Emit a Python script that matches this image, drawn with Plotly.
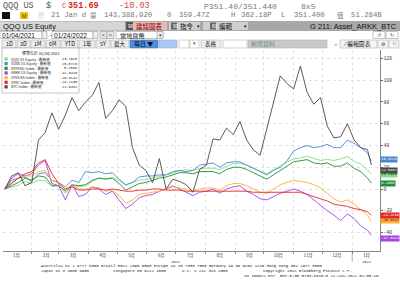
import pandas as pd
import plotly.graph_objects as go

# ---------------- data (normalised % change since 01/04/2021) ----------------
dates = list(pd.date_range("2021-01-04", "2022-01-17", freq="7D").strftime("%Y-%m-%d")) + ["2022-01-21"]

qqq = [0, 1.6, 3.5, 6.8, 5.2, 8.1, 7.4, 2.6, 3.5, -3.9, 3.5, 2.2, 2.9, 7.1, 10.3, 9.4, 10.7,
       7.7, 3.2, 6.1, 8.1, 8.7, 10.0, 11.6, 13.2, 14.5, 16.8, 17.8, 17.1, 18.7, 19.1, 19.1, 17.8,
       21.0, 23.3, 23.6, 22.0, 19.1, 16.5, 14.2, 17.8, 21.3, 24.6, 27.8, 28.5, 30.1, 27.8, 26.2,
       27.2, 26.2, 27.8, 29.7, 25.5, 23.0, 17.4, 13.7915]
soxx = [0, 8, 10, 11, 7, 14, 15, 8, 6, 2, 8, 6, 16, 15, 16, 14, 15, 9, 4, 6, 11, 12, 12, 13, 13,
        16, 17, 16, 17, 22, 23, 24, 20, 24, 25, 25, 22, 19, 16, 13, 17, 20, 26, 35, 38, 40, 38,
        39, 41, 38, 38, 45, 42, 38, 33, 25.5726]
nyfang = [0, 3, 6, 10, 8, 12, 11, 3, 3, -2, 4, 3, 4, 8, 10, 9, 10, 5, -1, 2, 5, 6, 8, 10, 11, 13,
          15, 15, 14, 16, 16, 16, 14, 18, 20, 20, 18, 15, 12, 9, 13, 17, 21, 25, 26, 27, 24, 23,
          24, 21, 21, 24, 19, 16, 10, 5.2568]
arkk = [0, 10, 14, 12, 14, 22, 26, 5, 3, -10, 4, -7, -5, 2, 0, -5, -2, -10, -18, -14, -8, -6, -5,
        -2, 0, 3, 0, -3, -6, -3, -2, 0, -4, 0, 2, 3, -2, -5, -9, -10, -7, -4, -2, 0, -2, -5, -10,
        -15, -20, -24, -29, -23, -27, -34, -38, -42.6418]
spdusa = [0, 6, 10, 12, 12, 16, 17, 8, 6, -1, 4, 0, 0, 2, 1, -2, -1, -6, -13, -10, -5, -4, -3, -2,
          0, 2, 1, 0, -2, 0, 1, 1, -1, 3, 5, 5, 3, 0, -3, -4, 0, 4, 6, 8, 7, 6, 4, 1, -4, -9, -12,
          -10, -14, -19, -24, -29.6142]
spac = [0, 5, 10, 14, 16, 24, 27, 14, 5, 0, 2, -1, -1, 0, 0, -1, 0, -1, -2, -2, -1, -1, 0, 0, -1,
        -1, -1, -2, -2, -2, -2, -2, -2, -2, -2, -2, -2, -3, -3, -3, -3, -3, -3, -3, -3, -5, -7, -9,
        -11, -14, -15, -16, -18, -19, -21, -24.2136]
btc = [0, 12, 15, 3, 6, 45, 52, 70, 55, 68, 84, 72, 80, 86, 98, 65, 72, 82, 76, 38, 22, 17, 6, 28,
       0, 9, 7, 4, -3, 18, 22, 46, 45, 56, 50, 62, 45, 36, 31, 55, 78, 104, 97, 92, 113, 89, 78,
       84, 58, 47, 48, 60, 45, 38, 36, 22.0432]

names = ["QQQ US Equity", "SOXX US Equity", "NYFANG Index", "ARKK US Equity",
         "SPDUSA Index", "SPAC Index", "BTC Index"]
series = [qqq, soxx, nyfang, arkk, spdusa, spac, btc]
colors = ["#86dd7e", "#4a88d4", "#1f8f3a", "#a244ec", "#ffab34", "#e4262a", "#484848"]
tag_text = ["#111", "#fff", "#fff", "#fff", "#111", "#fff", "#fff"]
tag_shift = [0, 1.5, 0, -3, 0.5, 0, -5]

month_labels = ["1月", "2月", "3月", "4月", "5月", "6月", "7月", "8月", "9月", "10月", "11月", "12月", "1月"]
month_starts = list(pd.date_range("2021-01-01", "2022-01-01", freq="MS"))
year_labels = ["2021", "2022"]

# ---------------- geometry helpers ----------------
W, H = 400, 288
L, R, T, B = 3, 20, 50, 37
PW, PH = W - L - R, H - T - B

SANS = "Liberation Sans, Noto Sans CJK TC, sans-serif"
MONO = "Liberation Mono, DejaVu Sans Mono, Noto Sans CJK TC, monospace"
CJK = "Noto Sans CJK TC, Liberation Sans, sans-serif"


def X(p):
    return (p - L) / PW


def Y(p):
    return 1 - (p - T) / PH


shapes, annots = [], []


def rect(x0, y0, x1, y1, fill, line=None, lw=0.6):
    shapes.append(dict(type="rect", xref="paper", yref="paper", x0=X(x0), x1=X(x1),
                       y0=Y(y1), y1=Y(y0), fillcolor=fill, layer="above",
                       line=dict(color=line if line else fill, width=lw if line else 0)))


def txt(x, y, s, size=6, color="#333", anchor="left", font=SANS):
    annots.append(dict(xref="paper", yref="paper", x=X(x), y=Y(y), text=s, showarrow=False,
                       xanchor=anchor, yanchor="middle", borderpad=0,
                       font=dict(size=size, color=color, family=font)))


# ---------------- figure ----------------
fig = go.Figure()
for n, s, c in zip(names, series, colors):
    fig.add_trace(go.Scatter(x=dates, y=s, mode="lines", name=n,
                             line=dict(color=c, width=0.9), hoverinfo="skip"))

# header row 1
txt(2, 6, "QQQ US", 8.5, "#555", font=MONO)
txt(45, 6, "$", 8.5, "#555", font=MONO)
txt(61, 6, "C", 6.5, "#c04040", font=MONO)
txt(67, 6, "<b>351.69</b>", 8.5, "#e02020", font=MONO)
txt(118, 6, "-10.03", 8.5, "#e04040", font=MONO)
txt(203, 6, "P351.40/351.440", 8.1, "#777", font=MONO)
txt(300, 6, "8x5", 8.1, "#777", font=MONO)
# header row 2
rect(2, 12, 10, 19, "#111")
rect(20, 12, 28, 19, "#f2c200")
txt(24, 15.5, "M", 5, "#333", "center")
txt(37, 15, "於", 6.5, "#ccc", font=CJK)
txt(50, 15, "21 Jan d", 7.3, "#777", font=MONO)
txt(89, 15, "量", 6.5, "#777", font=CJK)
for xx, s in [(103, "143,388,920"), (166, "0"), (178, "359.47Z"), (230, "H"), (240, "362.18P"),
              (280, "L"), (293, "351.400"), (350, "51.284B")]:
    txt(xx, 15, s, 7.3, "#777", font=MONO)
txt(336, 15, "值", 6.5, "#777", font=CJK)
# header row 3
rect(0, 21, 400, 31, "#a8a8a8")
rect(0, 21.5, 125, 30.5, "#d6d6d6")
txt(2, 26, "QQQ US Equity", 7.5, "#111")
rect(126, 22, 133, 30, "#555")
txt(126.5, 26, "98", 4.5, "#fff")
rect(133, 22, 167, 30, "#e7b9b9")
txt(135, 26, "建議圖表", 6.5, "#8b0000", font=CJK)
rect(169, 22, 200, 30, "#cfcfcf")
rect(171, 22.5, 177, 29.5, "#666")
txt(171.5, 26, "99", 4.5, "#fff")
txt(179, 26, "指令", 6.5, "#111", font=CJK)
txt(196, 26, "▾", 5, "#111")
rect(203, 22, 248, 30, "#cfcfcf")
rect(210, 22.5, 216, 29.5, "#666")
txt(210.5, 26, "80", 4.5, "#fff")
txt(218, 26, "編輯", 6.5, "#111", font=CJK)
txt(243, 26, "▾", 5, "#111")
txt(398, 26, "G 211: Asset_ARKK_BTC", 7.5, "#111", "right")
# header row 4
rect(0, 31.5, 42, 38.5, "#fff", "#999")
txt(1, 35, "01/04/2021", 6.6, "#111")
rect(42, 31.5, 47, 38.5, "#eee", "#999")
txt(48.5, 35, "-", 6, "#111")
rect(52, 31.5, 93, 38.5, "#fff", "#999")
txt(53, 35, "01/24/2022", 6.6, "#111")
rect(93, 31.5, 98, 38.5, "#eee", "#999")
rect(100, 31.5, 107, 38.5, "#e6e6e6", "#999")
txt(103.5, 35, "<", 5, "#333", "center")
rect(107, 31.5, 114, 38.5, "#e6e6e6", "#999")
txt(110.5, 35, ">", 5, "#333", "center")
rect(116, 31.5, 163, 38.5, "#fff", "#999")
txt(119, 35, "當地貨幣", 6.2, "#111", font=CJK)
rect(157, 31.5, 163, 38.5, "#eee", "#999")
txt(160, 35, "▾", 5, "#333", "center")
rect(373, 31.5, 385, 38.5, "#fff", "#999")
txt(379, 35, "↺", 5, "#555", "center")
rect(386, 31.5, 398, 38.5, "#fff", "#999")
txt(392, 35, "↻", 5, "#555", "center")
# header row 5
for x0, x1, lab in [(2, 16, "1D"), (17, 30, "3D"), (31, 45, "1M"), (46, 60, "6M"), (61, 78, "YTD"),
                    (79, 95, "1年"), (96, 110, "5Y"), (111, 129, "最大")]:
    rect(x0, 40, x1, 48, "#ececec", "#b4b4b4")
    txt((x0 + x1) / 2, 44, lab, 5.5, "#111", "center", font=CJK)
rect(130, 40, 158, 48, "#4f8fe0", "#3a6fb0")
txt(133, 44, "每日 ▼", 6, "#111", font=CJK)
rect(159, 40, 177, 48, "#a9c9f2", "#8fb0dc")
rect(179, 40, 189, 48, "#fff", "#b4b4b4")
rect(190, 40, 199, 48, "#fff", "#b4b4b4")
txt(194.5, 44, "▾", 4.5, "#555", "center")
rect(201, 40, 221, 48, "#ececec", "#b4b4b4")
txt(211, 44, "表格", 5.5, "#111", "center", font=CJK)
rect(223, 40, 247, 48, "#fff", "#b4b4b4")
rect(248, 40, 327, 48, "#c9c9c9", "#b4b4b4")
txt(250, 44, "新增資料", 6, "#6f8f6f", font=CJK)
txt(333, 44, "«", 6, "#999")
rect(340, 40, 377, 48, "#f4f4f4", "#b4b4b4")
txt(342, 44, "⁄ 編輯圖表", 5.8, "#111", font=CJK)
rect(378, 40, 388, 48, "#f4f4f4", "#b4b4b4")
txt(383, 44, "⚙", 5, "#333", "center")
rect(389, 40, 399, 48, "#f4f4f4", "#b4b4b4")
txt(394, 44, "□", 4.5, "#555", "center")

# legend box
rect(2, 48, 79, 93, "#ffffff", "#a0a0a0", 0.6)
txt(40.5, 53.5, "標準化於 01/04/2021", 4, "#222", "center", font=CJK)
for i, (n, s, c) in enumerate(zip(names, series, colors)):
    yy = 59 + i * 4.65
    rect(4.5, yy - 1.6, 7.7, yy + 1.6, c)
    txt(9.5, yy, f"{n} - 最新價", 3.6, "#222", font=CJK)
    txt(77.5, yy, f"{s[-1]:.4f}", 3.6, "#222", "right", font=MONO)

# last-value tags on the right axis
for n, s, c, tc, sh in zip(names, series, colors, tag_text, tag_shift):
    annots.append(dict(xref="paper", yref="y", x=1.0, y=s[-1], text=f"{s[-1]:.4f}",
                       showarrow=False, xanchor="left", yanchor="middle", yshift=sh, xshift=0,
                       bgcolor=c, borderpad=0.3,
                       font=dict(size=3.7, color=tc, family=MONO)))

# year labels and separator
annots.append(dict(xref="x", yref="paper", x="2021-07-01", y=Y(261.5), text=year_labels[0],
                   showarrow=False, xanchor="center", yanchor="middle",
                   font=dict(size=3.8, color="#333", family=MONO)))
annots.append(dict(xref="x", yref="paper", x="2022-01-16", y=Y(261.5), text=year_labels[1],
                   showarrow=False, xanchor="center", yanchor="middle",
                   font=dict(size=3.8, color="#333", family=MONO)))
shapes.append(dict(type="line", xref="x", yref="paper", x0="2022-01-01", x1="2022-01-01",
                   y0=Y(251), y1=Y(262), line=dict(color="#777", width=0.6)))

# footer
txt(40, 266, "Australia 61 2 9777 8600 Brazil 5511 2395 9000 Europe 44 20 7330 7500 "
             "Germany 49 69 9204 1210 Hong Kong 852 2977 6000", 4, "#222", font=MONO)
txt(40, 270.5, "Japan 81 3 4565 8900", 4, "#222", font=MONO)
txt(112, 270.5, "Singapore 65 6212 1000", 4, "#222", font=MONO)
txt(181, 270.5, "U.S. 1 212 318 2000", 4, "#222", font=MONO)
txt(262, 270.5, "Copyright 2022 Bloomberg Finance L.P.", 4, "#222", font=MONO)
txt(243, 275.5, "SN 106022 EST  GMT-5:00 G733-8810-5 22-Jan-2022 02:55:10", 4, "#222", font=MONO)

tickvals = [(d + pd.Timedelta(days=15)).strftime("%Y-%m-%d") for d in month_starts]

fig.update_layout(
    width=W, height=H, autosize=False,
    margin=dict(l=L, r=R, t=T, b=B, pad=0),
    paper_bgcolor="#ffffff", plot_bgcolor="#ffffff",
    showlegend=False,
    shapes=shapes, annotations=annots,
    font=dict(family=SANS, size=5, color="#333"),
    xaxis=dict(range=["2021-01-02", "2022-01-30"], tickvals=tickvals, ticktext=month_labels,
               ticks="", showgrid=False, tickfont=dict(size=4.3, family=CJK, color="#333"),
               showline=True, linecolor="#888", linewidth=0.8, zeroline=False,
               minor=dict(dtick="M1", tick0="2021-01-01", ticks="outside", ticklen=2.5,
                          tickcolor="#888", showgrid=True, gridcolor="#e2e2e2", griddash="dot",
                          gridwidth=0.6)),
    yaxis=dict(range=[-57, 127.8], side="right", dtick=20, tick0=0, ticks="outside",
               ticklen=2, tickcolor="#666", showgrid=True, gridcolor="#e2e2e2",
               griddash="dot", gridwidth=0.6, zeroline=False, showline=True,
               linecolor="#888", linewidth=0.8,
               tickfont=dict(size=4.5, family=MONO, color="#333")),
)

fig.write_html("out.html", config={"displayModeBar": False})
